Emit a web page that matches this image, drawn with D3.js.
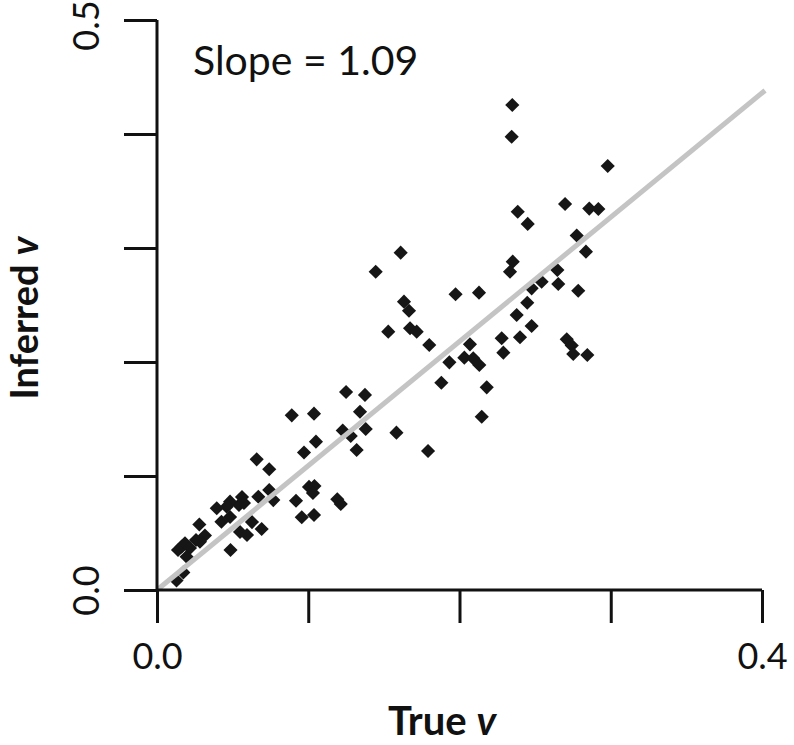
<!DOCTYPE html>
<html><head><meta charset="utf-8">
<script src="https://cdn.jsdelivr.net/npm/d3@7"></script>
<style>
body{margin:0;background:#fff}
svg{display:block}
text{font-family:Lato,"Open Sans",sans-serif;fill:#111}
</style>
</head><body>
<svg id="chart" width="794" height="745"></svg>
<script>
// True v (x) and inferred v (y) for each simulated data set
const trueV = [
0.2349,0.2345,0.2980,0.2385,0.2451,0.2698,0.2858,0.2918,0.2775,0.2836,
0.2352,0.2334,0.2647,0.2653,0.2785,0.2543,0.2477,0.2448,0.2378,0.2477,
0.2400,0.2279,0.2290,0.1974,0.2129,0.2709,0.2742,0.2752,0.2845,0.2069,
0.1800,0.1933,0.2032,0.2091,0.2131,0.1880,0.2180,0.2147,0.1792,0.1611,
0.1446,0.1633,0.1666,0.1529,0.1673,0.1717,0.1250,0.1375,0.1342,0.0891,
0.1038,0.1228,0.1281,0.1380,0.1583,0.1051,0.0972,0.1320,0.0659,0.0742,
0.1005,0.1041,0.1031,0.0919,0.1192,0.1215,0.0957,0.1038,0.0742,0.0670,
0.0769,0.0562,0.0575,0.0542,0.0483,0.0461,0.0395,0.0426,0.0483,0.0628,
0.0692,0.0549,0.0595,0.0280,0.0317,0.0284,0.0258,0.0163,0.0185,0.0139,
0.0218,0.0196,0.0486,0.0174,0.0129
];
const inferredV = [
0.4254,0.3976,0.3719,0.3318,0.3211,0.3386,0.3346,0.3342,0.3110,0.2968,
0.2880,0.2792,0.2807,0.2684,0.2625,0.2704,0.2646,0.2520,0.2412,0.2316,
0.2217,0.2208,0.2082,0.2594,0.2608,0.2199,0.2145,0.2070,0.2061,0.2155,
0.2149,0.1997,0.2038,0.2032,0.1974,0.1818,0.1778,0.1520,0.1219,0.2959,
0.2792,0.2529,0.2450,0.2266,0.2296,0.2266,0.1737,0.1711,0.1564,0.1532,
0.1547,0.1399,0.1351,0.1412,0.1380,0.1301,0.1206,0.1228,0.1146,0.1059,
0.0904,0.0912,0.0851,0.0783,0.0796,0.0754,0.0638,0.0658,0.0877,0.0818,
0.0789,0.0816,0.0763,0.0746,0.0775,0.0731,0.0717,0.0599,0.0640,0.0596,
0.0535,0.0509,0.0482,0.0575,0.0478,0.0424,0.0439,0.0380,0.0410,0.0351,
0.0368,0.0292,0.0351,0.0154,0.0083
];
const xTicks = [0, 0.1, 0.2, 0.3, 0.4];
const xTickLabels = ["0.0", "", "", "", "0.4"];
const yTicks = [0, 0.1, 0.2, 0.3, 0.4, 0.5];
const yTickLabels = ["0.0", "", "", "", "", "0.5"];
const fitSlope = 1.09;
const fitRange = [0, 0.402];
const xTitle = "True ";
const yTitle = "Inferred ";
const titleVar = "v";
const slopeLabel = "Slope = 1.09";

const svg = d3.select("#chart");
const x = d3.scaleLinear().domain([0, 0.4]).range([157, 762]);
const y = d3.scaleLinear().domain([0, 0.5]).range([590, 20]);

// points
const pts = d3.range(trueV.length).map(i => ({x: trueV[i], y: inferredV[i]}));
const sym = d3.symbol().type(d3.symbolSquare).size(100);
svg.append("g").selectAll("path").data(pts).join("path")
  .attr("d", sym)
  .attr("transform", d => `translate(${x(d.x)},${y(d.y)}) rotate(45)`)
  .attr("fill", "#161616");

// fitted line (drawn over points)
svg.append("line")
  .attr("x1", x(fitRange[0])).attr("y1", y(fitRange[0] * fitSlope))
  .attr("x2", x(fitRange[1])).attr("y2", y(fitRange[1] * fitSlope))
  .attr("stroke", "#c4c4c4").attr("stroke-width", 5);

// axes
const xAxis = d3.axisBottom(x).tickValues(xTicks).tickSize(33).tickPadding(20)
  .tickFormat((d, i) => xTickLabels[i]);
const gx = svg.append("g").attr("transform", `translate(0,${y(0)})`).call(xAxis);
gx.select(".domain").attr("d", `M${x(0)},0H${x(0.4)}`);
const yAxis = d3.axisLeft(y).tickValues(yTicks).tickSize(33).tickPadding(0)
  .tickFormat((d, i) => yTickLabels[i]);
const gy = svg.append("g").attr("transform", `translate(${x(0)},0)`).call(yAxis);
gy.select(".domain").attr("d", `M0,${y(0.5)}V${y(0)}`);
[gx, gy].forEach(g => {
  g.selectAll(".domain, .tick line").attr("stroke", "#111").attr("stroke-width", 3);
  g.selectAll(".tick text").attr("font-size", 36).attr("font-family", "Lato").attr("fill", "#111");
});
gx.selectAll(".tick text").attr("y", 53).attr("dy", "0.71em");
gy.selectAll(".tick text")
  .attr("x", null).attr("dy", null)
  .attr("text-anchor", "middle")
  .attr("transform", (d, i) => `translate(-58,${d === 0.5 ? 5 : 0}) rotate(-90)`);

// titles
const tx = svg.append("text").attr("x", 442).attr("y", 735)
  .attr("text-anchor", "middle").attr("font-size", 40).attr("font-weight", 700);
tx.append("tspan").text(xTitle);
tx.append("tspan").attr("font-style", "italic").text(titleVar);

const ty = svg.append("text").attr("transform", "translate(38,318) rotate(-90)")
  .attr("text-anchor", "middle").attr("font-size", 38).attr("font-weight", 700);
ty.append("tspan").text(yTitle);
ty.append("tspan").attr("font-style", "italic").text(titleVar);

svg.append("text").attr("x", 193).attr("y", 75).attr("font-size", 41).text(slopeLabel);
</script>
</body></html>
